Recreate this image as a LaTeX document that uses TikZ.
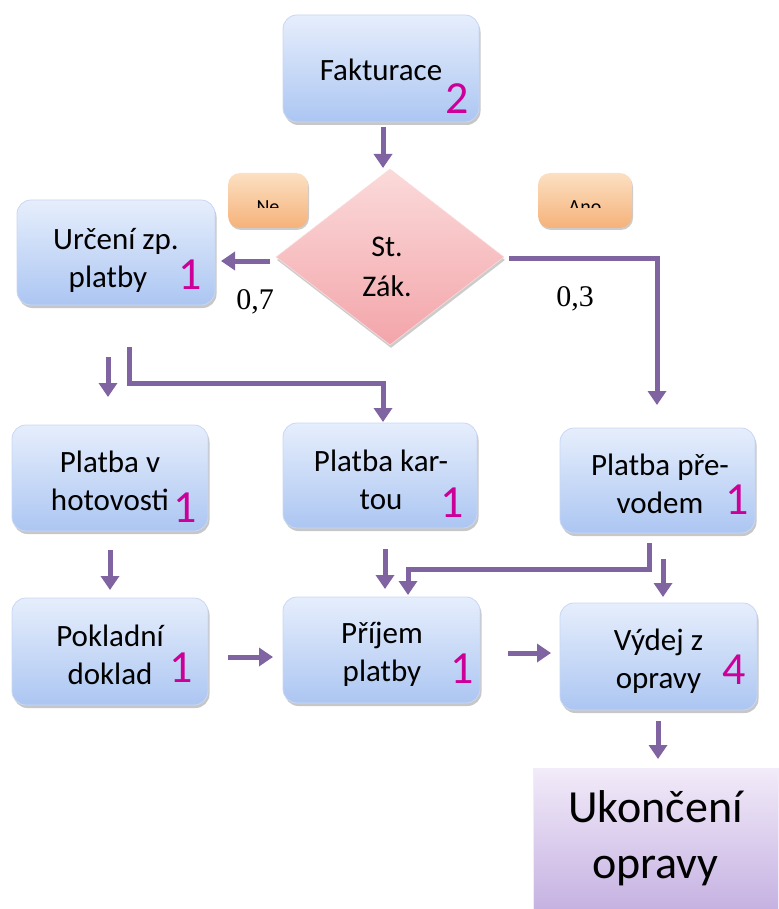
\documentclass[tikz,border=0pt]{standalone}
\usepackage{fontspec}
\setmainfont{Carlito}
\newfontfamily\probfont{Liberation Serif}
\usetikzlibrary{arrows.meta,shadows,shapes.geometric}
\definecolor{bluetop}{RGB}{230,238,252}
\definecolor{bluebot}{RGB}{172,198,242}
\definecolor{blueedge}{RGB}{200,215,243}
\definecolor{pinktop}{RGB}{251,218,218}
\definecolor{pinkbot}{RGB}{243,165,170}
\definecolor{orangetop}{RGB}{252,224,194}
\definecolor{orangebot}{RGB}{245,178,122}
\definecolor{purtop}{RGB}{242,235,249}
\definecolor{purbot}{RGB}{198,178,226}
\definecolor{arrowcol}{RGB}{128,100,162}
\definecolor{numcol}{RGB}{204,0,153}
\begin{document}
\begin{tikzpicture}[x=1pt,y=-1pt,
  bluebox/.style={rounded corners=14pt, top color=bluetop, bottom color=bluebot,
    draw=blueedge, line width=0.8pt,
    drop shadow={shadow xshift=1.5pt, shadow yshift=-3pt, opacity=0.22, fill=black},
    inner sep=0pt},
  boxtext/.style={inner sep=0pt, align=center, font=\fontsize{31}{38}\selectfont},
  smallbox/.style={rounded corners=12pt, top color=orangetop, bottom color=orangebot,
    draw=none, drop shadow={shadow xshift=1pt, shadow yshift=-2pt, opacity=0.2, fill=black},
    inner sep=0pt},
  endbox/.style={top color=purtop, bottom color=purbot, draw=purtop, line width=0.8pt,
    drop shadow={shadow xshift=1.5pt, shadow yshift=-3pt, opacity=0.22, fill=black},
    inner sep=0pt, align=center, font=\fontsize{46}{56}\selectfont},
  decbox/.style={diamond, top color=pinktop, bottom color=pinkbot, draw=pinktop,
    line width=0.6pt, inner sep=0pt, aspect=1.3,
    drop shadow={shadow xshift=1pt, shadow yshift=-3pt, opacity=0.2, fill=black}},
  tag/.style={text=numcol, font=\fontsize{46}{46}\selectfont, inner sep=0pt},
  arr/.style={draw=arrowcol, line width=5pt, -{Triangle[length=14pt,width=18pt]}},
  prob/.style={font=\probfont\fontsize{30}{30}\selectfont, inner sep=0pt},
  small/.style={font=\fontsize{20}{20}\selectfont, inner sep=0pt, anchor=base}
]
\useasboundingbox (0,0) rectangle (778,909);

% boxes
\node[bluebox, minimum width=196pt, minimum height=107pt] (fak) at (381,68.5) {};
\node[bluebox, minimum width=198pt, minimum height=105pt] (urc) at (116,252.5) {};
\node[bluebox, minimum width=196pt, minimum height=106pt] (hot) at (110,478) {};
\node[bluebox, minimum width=194pt, minimum height=105pt] (kar) at (380,475.5) {};
\node[bluebox, minimum width=195pt, minimum height=105pt] (pre) at (657.5,480.5) {};
\node[bluebox, minimum width=196pt, minimum height=107pt] (pok) at (110,651.5) {};
\node[bluebox, minimum width=197pt, minimum height=106pt] (pri) at (381.5,650) {};
\node[bluebox, minimum width=197pt, minimum height=107pt] (vyd) at (658.5,656.5) {};
\node[endbox, minimum width=245pt, minimum height=141pt] (uko) at (655.5,838.5) {Ukončení\\opravy};

% box texts
\node[boxtext] (fakt) at (381,70) {Fakturace};
\node[boxtext] (urct) at (116,260) {Určení zp.\\platby\hspace*{16pt}};
\node[boxtext] (hott) at (110,480.5) {Platba v\\hotovosti};
\node[boxtext] (kart) at (381,480) {Platba kar-\\tou};
\node[boxtext] (pret) at (660,483.5) {Platba pře-\\vodem};
\node[boxtext] (pokt) at (110,655) {Pokladní\\doklad};
\node[boxtext] (prit) at (382,654) {Příjem\\platby};
\node[boxtext] (vydt) at (658.5,661.5) {Výdej z\\opravy};

% decision
\node[decbox, minimum width=228pt, minimum height=176pt] (dec) at (390,257) {};
\node[inner sep=0pt, align=center, font=\fontsize{30}{40}\selectfont] (dect) at (387,267) {St.\\Zák.};

% Ne / Ano
\node[smallbox, minimum width=80pt, minimum height=55pt] (ne) at (268,200.5) {};
\node[smallbox, minimum width=94pt, minimum height=55pt] (ano) at (585,200.5) {};
\begin{scope}
  \clip (228,180) rectangle (308,208);
  \node[small] (net) at (268,214) {Ne};
\end{scope}
\begin{scope}
  \clip (538,180) rectangle (632,208);
  \node[small] (anot) at (585,214) {Ano};
\end{scope}

% numbers
\node[tag] (n1) at (457,99) {2};
\node[tag] (n2) at (190,275) {1};
\node[tag] (n3) at (185,508) {1};
\node[tag] (n4) at (452,503) {1};
\node[tag] (n5) at (737,500) {1};
\node[tag] (n6) at (181,668) {1};
\node[tag] (n7) at (462,669) {1};
\node[tag] (n8) at (734,670) {4};

% probabilities
\node[prob] (p07) at (255,302) {0,7};
\node[prob] (p03) at (575,299) {0,3};

% connector points
\coordinate (a1s) at (383,127);  \coordinate (a1e) at (383,168);
\coordinate (a2s) at (270,261);  \coordinate (a2e) at (221,261);
\coordinate (a3s) at (509,258);  \coordinate (a3m) at (657,258); \coordinate (a3e) at (657,405);
\coordinate (a4s) at (108,357);  \coordinate (a4e) at (108,397);
\coordinate (a5s) at (129,347);  \coordinate (a5m) at (129,383); \coordinate (a5n) at (383,383); \coordinate (a5e) at (383,422);
\coordinate (a6s) at (110,550);  \coordinate (a6e) at (110,590);
\coordinate (a7s) at (385,549);  \coordinate (a7e) at (385,589);
\coordinate (a8s) at (649,543);  \coordinate (a8m) at (649,569); \coordinate (a8n) at (408,569); \coordinate (a8e) at (408,595);
\coordinate (a9s) at (663,559);  \coordinate (a9e) at (663,597);
\coordinate (a10s) at (228,657); \coordinate (a10e) at (273,657);
\coordinate (a11s) at (508,653); \coordinate (a11e) at (551,653);
\coordinate (a12s) at (658,721); \coordinate (a12e) at (658,759);

\draw[arr] (a1s) -- (a1e);
\draw[arr] (a2s) -- (a2e);
\draw[arr] (a3s) -- (a3m) -- (a3e);
\draw[arr] (a4s) -- (a4e);
\draw[arr] (a5s) -- (a5m) -- (a5n) -- (a5e);
\draw[arr] (a6s) -- (a6e);
\draw[arr] (a7s) -- (a7e);
\draw[arr] (a8s) -- (a8m) -- (a8n) -- (a8e);
\draw[arr] (a9s) -- (a9e);
\draw[arr] (a10s) -- (a10e);
\draw[arr] (a11s) -- (a11e);
\draw[arr] (a12s) -- (a12e);
\end{tikzpicture}
\end{document}
